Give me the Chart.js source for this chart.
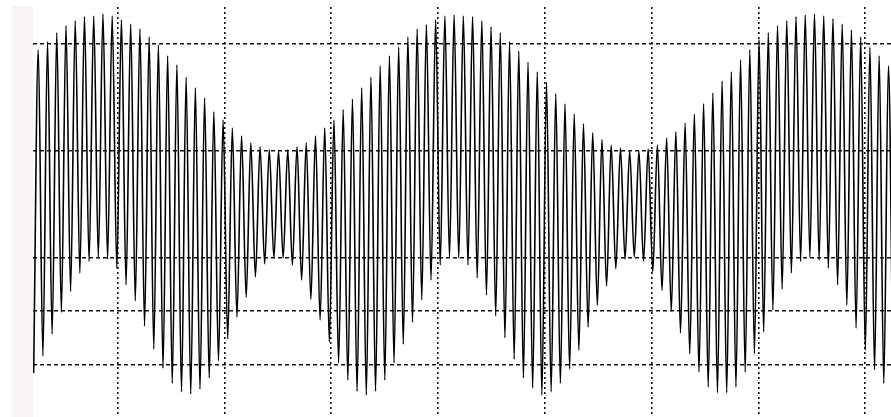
<!DOCTYPE html>
<html>
<head>
<meta charset="utf-8">
<script src="https://cdn.jsdelivr.net/npm/chart.js@4.4.1/dist/chart.umd.min.js"></script>
<style>
  html, body { margin: 0; padding: 0; background: #fff; }
</style>
</head>
<body>
<canvas id="scope" width="891" height="417"></canvas>
<script>
// crest of each carrier cycle (divisions above centre)
const peaks = [
  2.88, 3.03, 3.20, 3.33, 3.42, 3.50, 3.51, 3.55, 3.51, 3.44,
  3.36, 3.27, 3.12, 2.97, 2.77, 2.60, 2.37, 2.17, 1.98, 1.72,
  1.57, 1.42, 1.27, 1.14, 1.07, 1.01, 0.99, 1.01, 1.07, 1.14,
  1.27, 1.42, 1.57, 1.76, 1.96, 2.17, 2.37, 2.58, 2.77, 2.93,
  3.12, 3.27, 3.35, 3.44, 3.51, 3.53, 3.51, 3.50, 3.42, 3.31,
  3.20, 3.03, 2.86, 2.65, 2.47, 2.28, 2.06, 1.87, 1.68, 1.50,
  1.33, 1.20, 1.10, 1.05, 0.99, 0.99, 1.03, 1.10, 1.23, 1.35,
  1.51, 1.68, 1.87, 2.07, 2.30, 2.47, 2.69, 2.88, 3.07, 3.20,
  3.33, 3.42, 3.50, 3.53, 3.55, 3.51, 3.46, 3.36, 3.25, 3.12,
  2.93, 2.77, 2.58
];

// bottom of each carrier cycle
const troughs = [
  -3.16, -2.84, -2.43, -2.02, -1.63, -1.29, -1.07, -0.99, -1.03, -1.20,
  -1.51, -1.81, -2.28, -2.71, -3.07, -3.35, -3.51, -3.55, -3.46, -3.25,
  -2.93, -2.52, -2.11, -1.74, -1.36, -1.12, -1.01, -1.01, -1.14, -1.42,
  -1.78, -2.17, -2.58, -2.97, -3.29, -3.50, -3.57, -3.50, -3.29, -2.97,
  -2.62, -2.21, -1.79, -1.42, -1.14, -0.99, -1.01, -1.14, -1.38, -1.70,
  -2.09, -2.50, -2.90, -3.25, -3.44, -3.57, -3.51, -3.35, -3.08, -2.73,
  -2.30, -1.89, -1.53, -1.21, -1.03, -0.99, -1.07, -1.27, -1.61, -2.00,
  -2.41, -2.80, -3.14, -3.42, -3.53, -3.53, -3.42, -3.14, -2.80, -2.39,
  -1.98, -1.59, -1.29, -1.07, -0.99, -1.05, -1.20, -1.51, -1.89, -2.32,
  -2.73, -3.10, -3.35, -3.51
];

// graticule, in cycles (x) and divisions (y)
const gridX = [8.59, 20.16, 31.70, 43.26, 54.80, 66.36, 77.92, 89.47];
const gridY = [3, 1, -1, -2, -3];

const trace = [];
for (let i = 0; i < troughs.length; i++) {
  trace.push({ x: i - 0.5, y: troughs[i] });
  if (i < peaks.length) trace.push({ x: i, y: peaks[i] });
}

const sideStrip = {
  id: 'sideStrip',
  beforeDraw(chart) {
    const { ctx, chartArea } = chart;
    ctx.save();
    ctx.fillStyle = '#f9f4f5';
    ctx.fillRect(12, 6, chartArea.left - 12, chart.height - 6);
    ctx.restore();
  }
};

new Chart(document.getElementById('scope'), {
  type: 'line',
  data: {
    datasets: [{
      data: trace,
      borderColor: '#000',
      borderWidth: 1.6,
      pointRadius: 0,
      cubicInterpolationMode: 'monotone',
      fill: false
    }]
  },
  options: {
    responsive: false,
    animation: false,
    events: [],
    layout: { padding: { left: 33, top: 7, right: 0, bottom: 0 } },
    plugins: { legend: { display: false }, tooltip: { enabled: false } },
    scales: {
      x: {
        type: 'linear',
        min: -0.57,
        max: 92.28,
        afterBuildTicks: ax => { ax.ticks = gridX.map(v => ({ value: v })); },
        ticks: { display: false },
        grid: { color: '#111', lineWidth: 1.6, drawTicks: false },
        border: { display: false, dash: [2, 3] }
      },
      y: {
        type: 'linear',
        min: -3.98,
        max: 3.68,
        afterBuildTicks: ax => { ax.ticks = gridY.map(v => ({ value: v })); },
        ticks: { display: false },
        grid: { color: '#111', lineWidth: 1.6, drawTicks: false },
        border: { display: false, dash: [4, 3] }
      }
    }
  },
  plugins: [sideStrip]
});
</script>
</body>
</html>
